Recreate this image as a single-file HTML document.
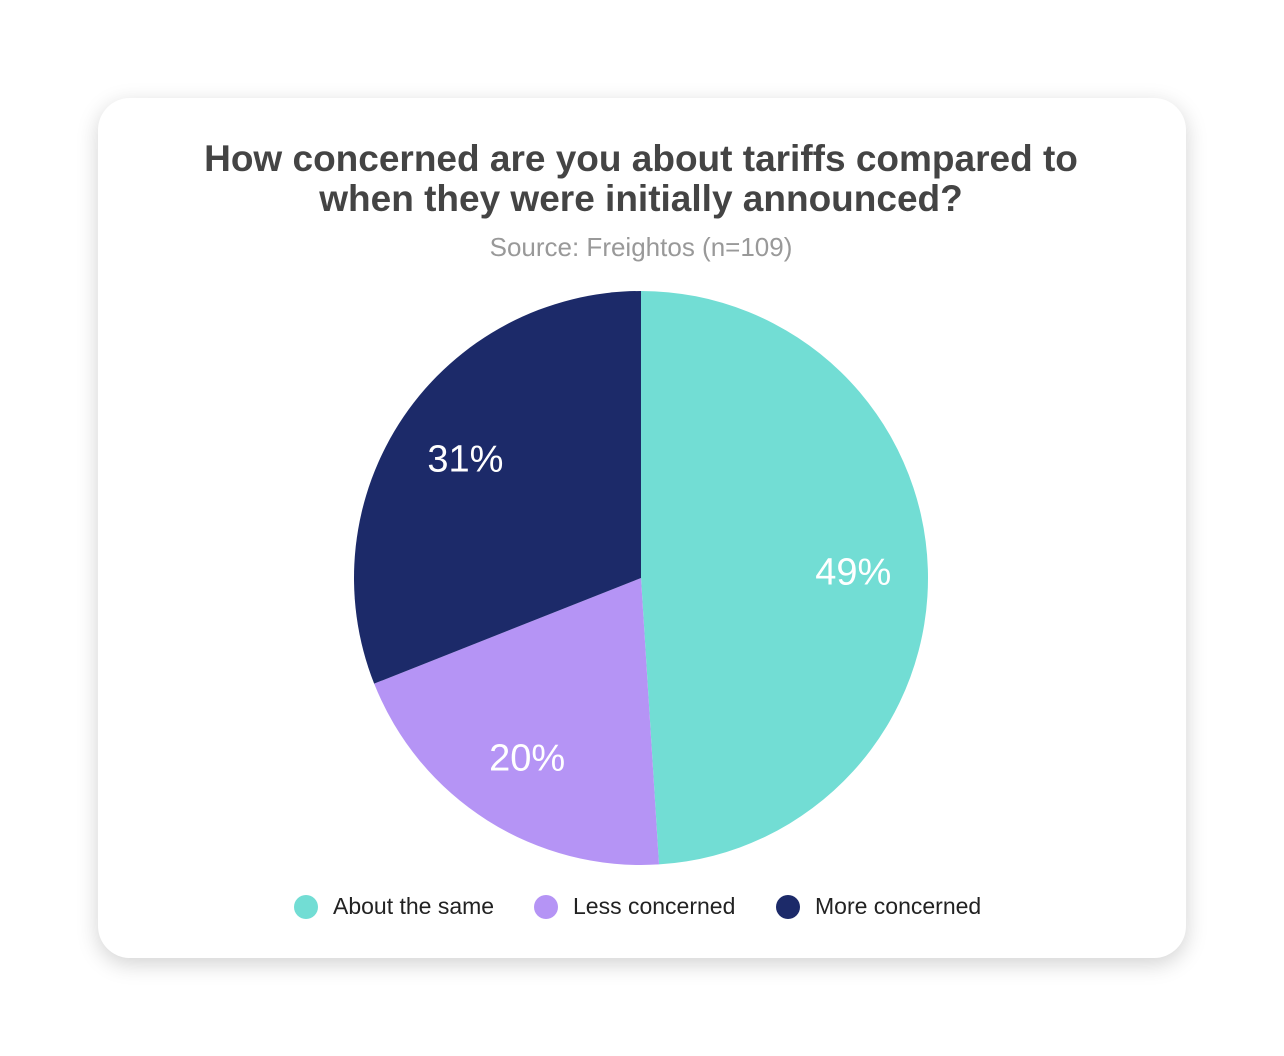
<!DOCTYPE html>
<html><head><meta charset="utf-8"><style>
body{margin:0;width:1284px;height:1056px;background:#fff;font-family:"Liberation Sans",Arial,sans-serif;overflow:hidden}
#card{position:absolute;left:98px;top:98px;width:1088px;height:860px;background:#fff;border-radius:32px;box-shadow:0 6px 22px rgba(0,0,0,0.18)}
</style></head><body>
<div id="card"></div>
<svg id="chart" width="1284" height="1056" style="position:absolute;left:0;top:0">
<text x="641" y="171" text-anchor="middle" font-size="37" font-weight="bold" fill="#444">How concerned are you about tariffs compared to</text>
<text x="641" y="211" text-anchor="middle" font-size="37" font-weight="bold" fill="#444">when they were initially announced?</text>
<text x="641" y="256" text-anchor="middle" font-size="26" fill="#999">Source: Freightos (n=109)</text>
<g id="slices"></g><g id="labels"></g><g id="legend"></g>
</svg>
<script>
const categories=["About the same","Less concerned","More concerned"];
const values=[49,20,31];
const colors=["#72DDD4","#B594F5","#1C2A69"];
const cx=641,cy=578,R=287;
const ns="http://www.w3.org/2000/svg";
const total=values.reduce((a,b)=>a+b,0);
function pt(a,r){return [cx+r*Math.sin(a),cy-r*Math.cos(a)];}
let a0=0;
const sg=document.getElementById('slices'),lg=document.getElementById('labels'),leg=document.getElementById('legend');
values.forEach((v,i)=>{
  const a1=a0+v/total*2*Math.PI;
  const p0=pt(a0,R),p1=pt(a1,R);
  const p=document.createElementNS(ns,'path');
  p.setAttribute('d',`M${cx},${cy}L${p0[0]},${p0[1]}A${R},${R} 0 ${a1-a0>Math.PI?1:0} 1 ${p1[0]},${p1[1]}Z`);
  p.setAttribute('fill',colors[i]);
  
  
  sg.appendChild(p);
  const m=pt((a0+a1)/2,R*0.74);
  const t=document.createElementNS(ns,'text');
  t.setAttribute('x',m[0]);t.setAttribute('y',m[1]+13);
  t.setAttribute('text-anchor','middle');t.setAttribute('font-size','38');t.setAttribute('fill','#fff');
  t.textContent=v+'%';
  
  
  lg.appendChild(t);
  a0=a1;
});
const lx=[306,546,788];
categories.forEach((c,i)=>{
  const g=document.createElementNS(ns,'g');
  
  
  const ci=document.createElementNS(ns,'circle');
  ci.setAttribute('cx',lx[i]);ci.setAttribute('cy',907);ci.setAttribute('r',12);ci.setAttribute('fill',colors[i]);
  const t=document.createElementNS(ns,'text');
  t.setAttribute('x',lx[i]+27);t.setAttribute('y',914);t.setAttribute('font-size','23');t.setAttribute('fill','#222');
  t.textContent=c;
  g.appendChild(ci);g.appendChild(t);leg.appendChild(g);
});
</script>
</body></html>
